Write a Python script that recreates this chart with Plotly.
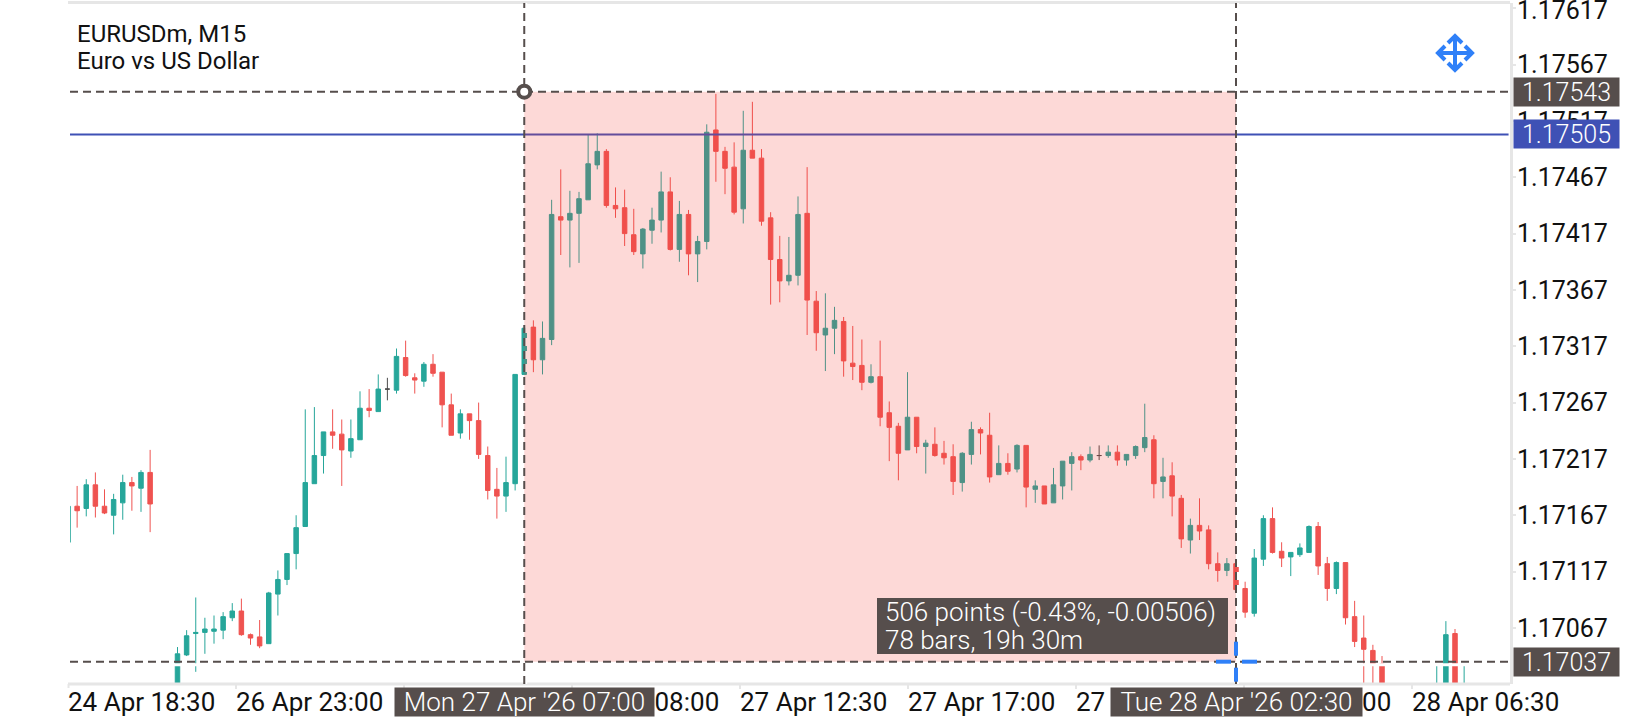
import plotly.graph_objects as go

# Bar numbers on screen, the bars in between run off the bottom of the chart
bars = list(range(0, 10)) + list(range(12, 145)) + list(range(150, 154))

opens = [
    1.17143, 1.17175, 1.17173, 1.17194, 1.17175, 1.17167, 1.17178, 1.17196, 1.17191, 1.17205,
    1.17010, 1.17043, 1.17062, 1.17063, 1.17064, 1.17065, 1.17076, 1.17082, 1.17061, 1.17059,
    1.17053, 1.17097, 1.17110, 1.17133, 1.17157, 1.17195, 1.17220, 1.17241, 1.17239, 1.17224,
    1.17234, 1.17262, 1.17259, 1.17279, 1.17278, 1.17307, 1.17289, 1.17286, 1.17301, 1.17294,
    1.17265, 1.17240, 1.17257, 1.17251, 1.17220, 1.17190, 1.17184, 1.17195, 1.17292, 1.17334,
    1.17305, 1.17323, 1.17432, 1.17429, 1.17435, 1.17447, 1.17478, 1.17490, 1.17442, 1.17440,
    1.17416, 1.17399, 1.17420, 1.17429, 1.17454, 1.17403, 1.17434, 1.17399, 1.17410, 1.17509,
    1.17490, 1.17476, 1.17439, 1.17491, 1.17484, 1.17431, 1.17394, 1.17375, 1.17380, 1.17435,
    1.17357, 1.17327, 1.17333, 1.17339, 1.17302, 1.17300, 1.17285, 1.17290, 1.17258, 1.17246,
    1.17225, 1.17254, 1.17228, 1.17230, 1.17222, 1.17219, 1.17196, 1.17221, 1.17243, 1.17238,
    1.17203, 1.17213, 1.17208, 1.17229, 1.17190, 1.17193, 1.17178, 1.17193, 1.17213, 1.17219,
    1.17216, 1.17220, 1.17220, 1.17223, 1.17216, 1.17220, 1.17227, 1.17234, 1.17197, 1.17202,
    1.17182, 1.17145, 1.17158, 1.17154, 1.17124, 1.17118, 1.17124, 1.17102, 1.17080, 1.17128,
    1.17164, 1.17135, 1.17130, 1.17132, 1.17134, 1.17157, 1.17124, 1.17102, 1.17125, 1.17077,
    1.17058, 1.17047, 1.17035, 1.17010, 1.17010, 1.17062, 1.17010,
]
highs = [
    1.17175, 1.17193, 1.17199, 1.17205, 1.17190, 1.17186, 1.17203, 1.17201, 1.17207, 1.17225,
    1.17050, 1.17065, 1.17094, 1.17076, 1.17078, 1.17081, 1.17089, 1.17093, 1.17062, 1.17074,
    1.17099, 1.17118, 1.17133, 1.17167, 1.17261, 1.17263, 1.17241, 1.17261, 1.17252, 1.17252,
    1.17277, 1.17279, 1.17292, 1.17289, 1.17315, 1.17322, 1.17293, 1.17303, 1.17310, 1.17294,
    1.17275, 1.17261, 1.17257, 1.17267, 1.17228, 1.17209, 1.17219, 1.17292, 1.17333, 1.17340,
    1.17339, 1.17447, 1.17474, 1.17455, 1.17454, 1.17505, 1.17506, 1.17492, 1.17458, 1.17456,
    1.17439, 1.17422, 1.17440, 1.17472, 1.17467, 1.17446, 1.17438, 1.17415, 1.17514, 1.17541,
    1.17494, 1.17498, 1.17526, 1.17534, 1.17492, 1.17436, 1.17415, 1.17414, 1.17450, 1.17476,
    1.17366, 1.17364, 1.17352, 1.17343, 1.17335, 1.17323, 1.17301, 1.17322, 1.17268, 1.17249,
    1.17294, 1.17254, 1.17234, 1.17245, 1.17233, 1.17230, 1.17223, 1.17250, 1.17245, 1.17258,
    1.17229, 1.17222, 1.17230, 1.17229, 1.17198, 1.17193, 1.17209, 1.17215, 1.17223, 1.17221,
    1.17228, 1.17229, 1.17229, 1.17229, 1.17221, 1.17229, 1.17266, 1.17238, 1.17218, 1.17214,
    1.17185, 1.17164, 1.17182, 1.17158, 1.17134, 1.17129, 1.17126, 1.17108, 1.17137, 1.17167,
    1.17174, 1.17143, 1.17134, 1.17142, 1.17158, 1.17161, 1.17130, 1.17126, 1.17125, 1.17091,
    1.17078, 1.17052, 1.17042, 1.17035, 1.17073, 1.17066, 1.17035,
]
lows = [
    1.17143, 1.17156, 1.17166, 1.17165, 1.17168, 1.17150, 1.17163, 1.17171, 1.17170, 1.17152,
    1.17005, 1.17042, 1.17028, 1.17044, 1.17053, 1.17057, 1.17073, 1.17060, 1.17052, 1.17049,
    1.17053, 1.17078, 1.17105, 1.17119, 1.17157, 1.17195, 1.17204, 1.17226, 1.17193, 1.17218,
    1.17234, 1.17254, 1.17259, 1.17269, 1.17275, 1.17290, 1.17275, 1.17281, 1.17290, 1.17245,
    1.17238, 1.17235, 1.17234, 1.17217, 1.17181, 1.17164, 1.17170, 1.17189, 1.17292, 1.17294,
    1.17292, 1.17318, 1.17398, 1.17387, 1.17391, 1.17447, 1.17474, 1.17440, 1.17431, 1.17406,
    1.17398, 1.17386, 1.17408, 1.17418, 1.17402, 1.17392, 1.17380, 1.17374, 1.17403, 1.17463,
    1.17452, 1.17434, 1.17426, 1.17484, 1.17424, 1.17354, 1.17356, 1.17371, 1.17371, 1.17327,
    1.17313, 1.17295, 1.17310, 1.17290, 1.17287, 1.17278, 1.17284, 1.17246, 1.17215, 1.17198,
    1.17225, 1.17222, 1.17204, 1.17219, 1.17212, 1.17185, 1.17188, 1.17212, 1.17221, 1.17196,
    1.17203, 1.17203, 1.17205, 1.17174, 1.17178, 1.17177, 1.17178, 1.17181, 1.17189, 1.17207,
    1.17214, 1.17216, 1.17218, 1.17211, 1.17211, 1.17217, 1.17223, 1.17182, 1.17182, 1.17166,
    1.17138, 1.17133, 1.17145, 1.17119, 1.17108, 1.17113, 1.17101, 1.17076, 1.17077, 1.17122,
    1.17133, 1.17121, 1.17113, 1.17130, 1.17134, 1.17114, 1.17091, 1.17097, 1.17070, 1.17050,
    1.17010, 1.17010, 1.17005, 1.17005, 1.17005, 1.17005, 1.17005,
]
closes = [
    1.17175, 1.17171, 1.17194, 1.17175, 1.17169, 1.17181, 1.17196, 1.17193, 1.17205, 1.17177,
    1.17044, 1.17060, 1.17063, 1.17066, 1.17066, 1.17077, 1.17082, 1.17061, 1.17058, 1.17051,
    1.17098, 1.17110, 1.17133, 1.17156, 1.17196, 1.17220, 1.17241, 1.17238, 1.17225, 1.17235,
    1.17262, 1.17260, 1.17279, 1.17279, 1.17308, 1.17291, 1.17287, 1.17301, 1.17293, 1.17265,
    1.17238, 1.17257, 1.17251, 1.17221, 1.17189, 1.17184, 1.17196, 1.17292, 1.17333, 1.17305,
    1.17324, 1.17434, 1.17429, 1.17435, 1.17448, 1.17479, 1.17490, 1.17442, 1.17439, 1.17417,
    1.17401, 1.17421, 1.17429, 1.17454, 1.17403, 1.17434, 1.17399, 1.17410, 1.17507, 1.17490,
    1.17475, 1.17436, 1.17491, 1.17484, 1.17428, 1.17394, 1.17375, 1.17380, 1.17434, 1.17358,
    1.17329, 1.17333, 1.17340, 1.17304, 1.17299, 1.17285, 1.17290, 1.17254, 1.17245, 1.17222,
    1.17254, 1.17228, 1.17231, 1.17220, 1.17218, 1.17197, 1.17222, 1.17243, 1.17240, 1.17201,
    1.17213, 1.17206, 1.17229, 1.17192, 1.17193, 1.17177, 1.17194, 1.17215, 1.17219, 1.17216,
    1.17221, 1.17220, 1.17223, 1.17216, 1.17221, 1.17228, 1.17236, 1.17195, 1.17201, 1.17184,
    1.17146, 1.17158, 1.17153, 1.17124, 1.17118, 1.17124, 1.17101, 1.17081, 1.17129, 1.17164,
    1.17134, 1.17129, 1.17134, 1.17138, 1.17157, 1.17122, 1.17102, 1.17125, 1.17076, 1.17055,
    1.17048, 1.17034, 1.17010, 1.17012, 1.17061, 1.17010, 1.17012,
]

price_ticks = [1.17617, 1.17567, 1.17517, 1.17467, 1.17417, 1.17367,
               1.17317, 1.17267, 1.17217, 1.17167, 1.17117, 1.17067]
time_ticks = [0, 18.41, 36.82, 55.23, 73.64, 92.05, 110.46, 128.87, 147.28]
time_labels = ["24 Apr 18:30", "26 Apr 23:00", "27 Apr 03:30", "27 Apr 08:00", "27 Apr 12:30",
               "27 Apr 17:00", "27 Apr 21:30", "28 Apr 02:00", "28 Apr 06:30"]

bid_price = 1.17505
start_price = 1.17543
end_price = 1.17037
start_bar = 50
end_bar = 128
start_label = "Mon 27 Apr '26 07:00"
end_label = "Tue 28 Apr '26 02:30"
measure_lines = ["506 points (-0.43%, -0.00506)", "78 bars, 19h 30m"]

GREEN = "#26a69a"
RED = "#ef5350"
DARK = "#564e4c"
BLUE = "#3f51b5"
CROSS = "#2f80f8"
AXIS = "#e6e6e6"
FONT = "Roboto"

W, H = 1640, 720
L, R, T, B = 70, 1510, 3, 684
BAR_PX = 9.125
x_range = [(L - 68) / BAR_PX, (R - 68) / BAR_PX]
y_range = [1.170172, 1.176217]


# helpers to go from screen pixels to paper fractions
def px(x):
    return (x - L) / (R - L)


def py(y):
    return 1 - (y - T) / (B - T)


def pick(test):
    idx = [i for i in range(len(bars)) if test(opens[i], closes[i])]
    return dict(x=[bars[i] for i in idx],
                open=[opens[i] for i in idx],
                high=[highs[i] for i in idx],
                low=[lows[i] for i in idx],
                close=[closes[i] for i in idx])


fig = go.Figure()
for test, color in [(lambda o, c: c > o, GREEN), (lambda o, c: c < o, RED), (lambda o, c: c == o, "#4a4a4a")]:
    fig.add_trace(go.Candlestick(
        **pick(test),
        increasing=dict(line=dict(color=color, width=1), fillcolor=color),
        decreasing=dict(line=dict(color=color, width=1), fillcolor=color),
        whiskerwidth=0,
        showlegend=False, hoverinfo="skip"))

dash = "8px,5px"
shapes = [
    # frame
    dict(type="line", xref="paper", yref="paper", x0=px(68), x1=px(R), y0=py(2.5), y1=py(2.5),
         line=dict(color=AXIS, width=3)),
    dict(type="line", xref="paper", yref="paper", x0=px(68), x1=px(R), y0=py(B), y1=py(B),
         line=dict(color=AXIS, width=3)),
    dict(type="line", xref="paper", yref="paper", x0=px(68.5), x1=px(68.5), y0=py(B), y1=py(B + 4),
         line=dict(color=AXIS, width=2)),
    # pale stripes beside the dashed lines, they only show over the candles
    dict(type="line", xref="paper", yref="y", ysizemode="pixel", yanchor=end_price, x0=0, x1=1,
         y0=-3, y1=-3, line=dict(color="white", width=3)),
    dict(type="line", xref="x", yref="paper", xsizemode="pixel", xanchor=start_bar, x0=2, x1=2,
         y0=0, y1=1, line=dict(color="white", width=2, dash=dash)),
    dict(type="line", xref="x", yref="paper", xsizemode="pixel", xanchor=end_bar, x0=2, x1=2,
         y0=0, y1=1, line=dict(color="white", width=2, dash=dash)),
    # bid line
    dict(type="line", xref="paper", yref="y", x0=0, x1=0.999, y0=bid_price, y1=bid_price,
         line=dict(color=BLUE, width=2)),
    # measured area
    dict(type="rect", xref="x", yref="y", x0=start_bar, x1=end_bar, y0=end_price, y1=start_price,
         fillcolor="rgba(244,67,54,0.2)", line=dict(width=0)),
]
for price in [start_price, end_price]:
    shapes.append(dict(type="line", xref="paper", yref="y", x0=0, x1=1.002, y0=price, y1=price,
                       line=dict(color=DARK, width=2, dash=dash)))
for bar in [start_bar, end_bar]:
    shapes.append(dict(type="line", xref="x", yref="paper", x0=bar, x1=bar, y0=0, y1=1,
                       line=dict(color=DARK, width=2, dash=dash)))
# ring on the start point
shapes.append(dict(type="circle", xref="x", yref="y", xsizemode="pixel", ysizemode="pixel",
                   xanchor=start_bar, yanchor=start_price, x0=-6, x1=6, y0=-6, y1=6,
                   fillcolor="white", line=dict(color=DARK, width=4)))
# blue cross on the end point
for x0, x1, y0, y1 in [(-20, -5, 0, 0), (6, 21, 0, 0), (0, 0, 6, 20), (0, 0, -20, -6)]:
    shapes.append(dict(type="line", xref="x", yref="y", xsizemode="pixel", ysizemode="pixel",
                       xanchor=end_bar, yanchor=end_price, x0=x0, x1=x1, y0=y0, y1=y1,
                       line=dict(color=CROSS, width=4)))
# move icon
shapes.append(dict(type="path", xref="paper", yref="paper", xsizemode="pixel", ysizemode="pixel",
                   xanchor=px(1455), yanchor=py(53),
                   path="M-17,0 L17,0 M0,-17 L0,17 M-10,-7 L-17,0 L-10,7 M10,-7 L17,0 L10,7 "
                        "M-7,10 L0,17 L7,10 M-7,-10 L0,-17 L7,-10",
                   line=dict(color=CROSS, width=4)))
# box behind the measure text
shapes.append(dict(type="rect", xref="paper", yref="paper", x0=px(877), x1=px(1228), y0=py(654), y1=py(598),
                   fillcolor=DARK, line=dict(width=0)))

annotations = [
    dict(text="EURUSDm, M15", xref="paper", yref="paper", x=px(75), y=py(34), xanchor="left", yanchor="middle",
         showarrow=False, font=dict(family=FONT, size=24, color="#111111")),
    dict(text="Euro vs US Dollar", xref="paper", yref="paper", x=px(75), y=py(61), xanchor="left", yanchor="middle",
         showarrow=False, font=dict(family=FONT, size=24, color="#111111")),
    # top price label sits a little lower than its tick so it stays on the page
    dict(text=f"{price_ticks[0]:.5f}", xref="paper", yref="paper", x=px(1516), y=py(11), xanchor="left",
         yanchor="middle", showarrow=False, borderpad=0, font=dict(family=FONT, size=25, color="#111111")),
]
for line, y in zip(measure_lines, [612, 640]):
    annotations.append(dict(text=line, xref="paper", yref="paper", x=px(883), y=py(y),
                            xanchor="left", yanchor="middle", showarrow=False,
                            font=dict(family=FONT, size=26, color="white", weight=300)))
for tick, label in zip(time_ticks, time_labels):
    annotations.append(dict(text=label, xref="paper", yref="paper", x=px(66 + tick * BAR_PX), y=py(702),
                            xanchor="left", yanchor="middle", showarrow=False,
                            font=dict(family=FONT, size=26, color="#111111")))
for price, color in [(start_price, DARK), (bid_price, BLUE), (end_price, DARK)]:
    annotations.append(dict(text=f"{price:.5f}", xref="paper", yref="y", x=px(1566.5), y=price,
                            xanchor="center", yanchor="middle", showarrow=False, width=105, height=28,
                            bgcolor=color, borderpad=0,
                            font=dict(family=FONT, size=25, color="white", weight=300)))
for bar, text, x_mid in [(start_bar, start_label, 524.5), (end_bar, end_label, 1236.5)]:
    annotations.append(dict(text=text, xref="paper", yref="paper", x=px(x_mid), y=py(702),
                            xanchor="center", yanchor="middle", showarrow=False,
                            width=259 if bar == start_bar else 251, height=28,
                            bgcolor=DARK, borderpad=0,
                            font=dict(family=FONT, size=26, color="white", weight=300)))

fig.update_layout(
    width=W, height=H,
    margin=dict(l=L, r=W - R, t=T, b=H - B, pad=0, autoexpand=False),
    paper_bgcolor="white",
    plot_bgcolor="white",
    boxgap=0.3,
    shapes=shapes,
    annotations=annotations,
    xaxis=dict(range=x_range, tickmode="array", tickvals=time_ticks, showticklabels=False,
               ticks="outside", ticklen=4, tickwidth=2, tickcolor=AXIS,
               showgrid=False, zeroline=False, rangeslider=dict(visible=False), fixedrange=True),
    yaxis=dict(range=y_range, side="right", tickmode="array", tickvals=price_ticks,
               ticktext=[""] + [f"{p:.5f}" for p in price_ticks[1:]],
               ticks="outside", ticklen=3, tickwidth=2, tickcolor=AXIS,
               ticklabelstandoff=-4, ticklabeloverflow="allow", automargin=False,
               showline=True, linecolor=AXIS, linewidth=3,
               showgrid=False, zeroline=False, fixedrange=True,
               tickfont=dict(family=FONT, size=25, color="#111111")),
)

fig.write_html("out.html", config=dict(displayModeBar=False), post_script="document.body.style.margin='0';")
